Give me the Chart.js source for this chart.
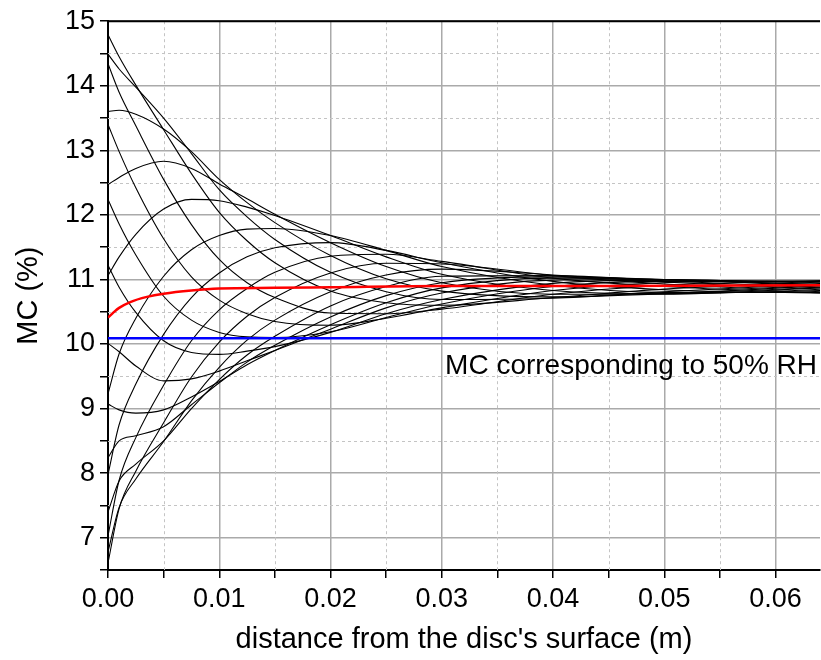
<!DOCTYPE html>
<html>
<head>
<meta charset="utf-8">
<script src="https://cdn.jsdelivr.net/npm/chart.js@4.4.1/dist/chart.umd.min.js"></script>
<style>
  html, body { margin: 0; padding: 0; background: #fff; }
  #wrap { width: 821px; height: 660px; }
</style>
</head>
<body>
<div id="wrap"><canvas id="mcChart" width="821" height="660"></canvas></div>
<script>
// distance from the surface (m) where the profiles were read
const xPos = [0, 0.001, 0.0025, 0.005, 0.0075, 0.01, 0.0125, 0.015, 0.02, 0.025, 0.03, 0.04, 0.05, 0.064];

// MC profiles (%), one array per time step
const p01 = [14.79, 14.45, 14.01, 13.32, 12.64, 12.04, 11.60, 11.26, 10.82, 10.64, 10.60, 10.72, 10.85, 10.96];
const p02 = [14.49, 14.26, 13.98, 13.50, 12.95, 12.39, 11.97, 11.62, 11.11, 10.81, 10.69, 10.71, 10.81, 10.93];
const p03 = [13.60, 13.62, 13.56, 13.33, 12.98, 12.55, 12.19, 11.88, 11.37, 11.01, 10.82, 10.73, 10.78, 10.90];
const p04 = [12.47, 12.58, 12.72, 12.83, 12.72, 12.48, 12.25, 12.01, 11.57, 11.20, 10.95, 10.77, 10.77, 10.87];
const p05 = [11.06, 11.35, 11.70, 12.09, 12.24, 12.22, 12.12, 11.99, 11.68, 11.35, 11.08, 10.83, 10.78, 10.83];
const p06 = [9.23, 9.85, 10.40, 11.05, 11.46, 11.68, 11.78, 11.79, 11.68, 11.45, 11.20, 10.91, 10.80, 10.80];
const p07 = [7.98, 8.75, 9.38, 10.15, 10.72, 11.10, 11.35, 11.49, 11.57, 11.45, 11.26, 10.97, 10.84, 10.79];
const p08 = [7.03, 7.89, 8.55, 9.36, 10.05, 10.53, 10.86, 11.11, 11.36, 11.39, 11.28, 11.02, 10.89, 10.79];
const p09 = [6.61, 7.45, 8.03, 8.78, 9.49, 10.03, 10.43, 10.72, 11.10, 11.25, 11.24, 11.06, 10.93, 10.81];
const p10 = [6.78, 7.47, 7.91, 8.49, 9.12, 9.64, 10.06, 10.37, 10.81, 11.07, 11.16, 11.07, 10.96, 10.84];
const p11 = [7.40, 7.88, 8.14, 8.50, 9.00, 9.45, 9.83, 10.12, 10.59, 10.89, 11.05, 11.06, 10.98, 10.87];
const p12 = [8.24, 8.50, 8.58, 8.72, 9.06, 9.40, 9.72, 9.98, 10.42, 10.75, 10.95, 11.04, 11.00, 10.90];
const p13 = [9.07, 8.98, 8.93, 8.98, 9.18, 9.42, 9.68, 9.90, 10.30, 10.64, 10.87, 11.02, 11.00, 10.92];
const p14 = [10.01, 9.88, 9.66, 9.43, 9.46, 9.58, 9.74, 9.90, 10.23, 10.56, 10.79, 10.99, 11.00, 10.94];
const p15 = [11.22, 10.88, 10.49, 10.05, 9.87, 9.84, 9.89, 9.96, 10.18, 10.47, 10.69, 10.94, 10.99, 10.96];
const p16 = [12.24, 11.86, 11.38, 10.74, 10.37, 10.18, 10.11, 10.10, 10.19, 10.41, 10.62, 10.89, 10.97, 10.97];
const p17 = [13.40, 12.98, 12.42, 11.63, 11.04, 10.68, 10.47, 10.35, 10.29, 10.40, 10.56, 10.83, 10.95, 10.98];
const p18 = [14.34, 13.90, 13.38, 12.55, 11.85, 11.31, 10.95, 10.72, 10.48, 10.47, 10.54, 10.77, 10.91, 10.98];
const profiles = [p01, p02, p03, p04, p05, p06, p07, p08, p09, p10, p11, p12, p13, p14, p15, p16, p17, p18];

// red curve
const meanX = [0, 0.0005, 0.001, 0.002, 0.0035, 0.005, 0.0075, 0.01, 0.015, 0.02, 0.03, 0.045, 0.064];
const meanMC = [10.41, 10.49, 10.56, 10.65, 10.73, 10.78, 10.83, 10.86, 10.87, 10.88, 10.90, 10.90, 10.91];

// blue line: MC at 50% RH
const rhX = [0, 0.064];
const rhMC = [10.09, 10.09];
const rhLabel = 'MC corresponding to 50% RH';

const xTitle = "distance from the disc's surface (m)";
const yTitle = 'MC (%)';

const FONT = "'Liberation Sans', Arial, sans-serif";

function toPoints(xs, ys) {
    return ys.map((v, i) => ({ x: xs[i], y: v }));
}

function isMajorX(v) {
    return Math.abs(v * 100 - Math.round(v * 100)) < 1e-6;
}

function isMajorY(v) {
    return Math.abs(v - Math.round(v)) < 1e-6;
}

const datasets = [];
datasets.push({
    data: toPoints(meanX, meanMC),
    borderColor: '#ff0000',
    borderWidth: 2.5,
    order: 0
});
datasets.push({
    data: toPoints(rhX, rhMC),
    borderColor: '#0000ff',
    borderWidth: 2.5,
    order: 1
});
profiles.forEach(p => {
    datasets.push({
        data: toPoints(xPos, p),
        borderColor: '#000000',
        borderWidth: 1.1,
        order: 2
    });
});

// dashed minor grid, top frame line and the text label
const extras = {
    id: 'extras',
    beforeDatasetsDraw(chart) {
        const { ctx, chartArea: a, scales: { x, y } } = chart;
        ctx.save();
        ctx.strokeStyle = '#c4c4c4';
        ctx.lineWidth = 1;
        ctx.setLineDash([3, 3]);
        x.ticks.forEach(t => {
            if (isMajorX(t.value)) return;
            const px = Math.round(x.getPixelForValue(t.value)) + 0.5;
            ctx.beginPath();
            ctx.moveTo(px, a.top);
            ctx.lineTo(px, a.bottom);
            ctx.stroke();
        });
        y.ticks.forEach(t => {
            if (isMajorY(t.value) || t.value <= y.min || t.value >= y.max) return;
            const py = Math.round(y.getPixelForValue(t.value)) + 0.5;
            ctx.beginPath();
            ctx.moveTo(a.left, py);
            ctx.lineTo(a.right, py);
            ctx.stroke();
        });
        ctx.restore();
    },
    afterDatasetsDraw(chart) {
        const { ctx, chartArea: a, scales: { x, y } } = chart;
        ctx.save();
        ctx.strokeStyle = '#000';
        ctx.lineWidth = 2;
        ctx.beginPath();
        ctx.moveTo(a.left - 1, a.top);
        ctx.lineTo(a.right, a.top);
        ctx.stroke();

        ctx.fillStyle = '#000';
        ctx.font = '28px ' + FONT;
        ctx.textAlign = 'right';
        ctx.textBaseline = 'middle';
        ctx.fillText(rhLabel, x.right - 3, y.getPixelForValue(9.66));
        ctx.restore();
    }
};

const ctx = document.getElementById('mcChart').getContext('2d');
const chart = new Chart(ctx, {
    type: 'line',
    data: { datasets: datasets },
    options: {
        responsive: false,
        animation: false,
        events: [],
        layout: { padding: { top: 19, right: 1, left: 0, bottom: 0 } },
        elements: {
            point: { radius: 0 },
            line: { cubicInterpolationMode: 'monotone', fill: false }
        },
        plugins: {
            legend: { display: false },
            tooltip: { enabled: false }
        },
        scales: {
            x: {
                type: 'linear',
                min: 0,
                max: 0.064,
                afterFit: s => { s.height = 90; },
                ticks: {
                    stepSize: 0.005,
                    includeBounds: false,
                    autoSkip: false,
                    maxRotation: 0,
                    color: '#000',
                    padding: 5,
                    font: { family: FONT, size: 27 },
                    callback: v => isMajorX(v) ? v.toFixed(2) : ''
                },
                grid: {
                    color: c => (c.tick && isMajorX(c.tick.value)) ? '#aaaaaa' : 'rgba(0,0,0,0)',
                    tickColor: '#000',
                    tickLength: 8,
                    lineWidth: 1.5
                },
                border: { color: '#000', width: 2 },
                title: {
                    display: true,
                    text: xTitle,
                    color: '#000',
                    font: { family: FONT, size: 29 },
                    padding: { top: 2, bottom: 3 }
                }
            },
            y: {
                type: 'linear',
                min: 6.5,
                max: 15,
                afterFit: s => { s.width = 108; },
                ticks: {
                    stepSize: 0.5,
                    autoSkip: false,
                    color: '#000',
                    padding: 5,
                    font: { family: FONT, size: 27 },
                    callback: v => isMajorY(v) ? String(Math.round(v)) : ''
                },
                grid: {
                    color: c => (c.tick && isMajorY(c.tick.value)) ? '#aaaaaa' : 'rgba(0,0,0,0)',
                    tickColor: '#000',
                    tickLength: 8,
                    lineWidth: 1.5
                },
                border: { color: '#000', width: 2 },
                title: {
                    display: true,
                    text: yTitle,
                    color: '#000',
                    font: { family: FONT, size: 29 },
                    padding: { top: 12, bottom: 0 }
                }
            }
        }
    },
    plugins: [extras]
});
</script>
</body>
</html>
